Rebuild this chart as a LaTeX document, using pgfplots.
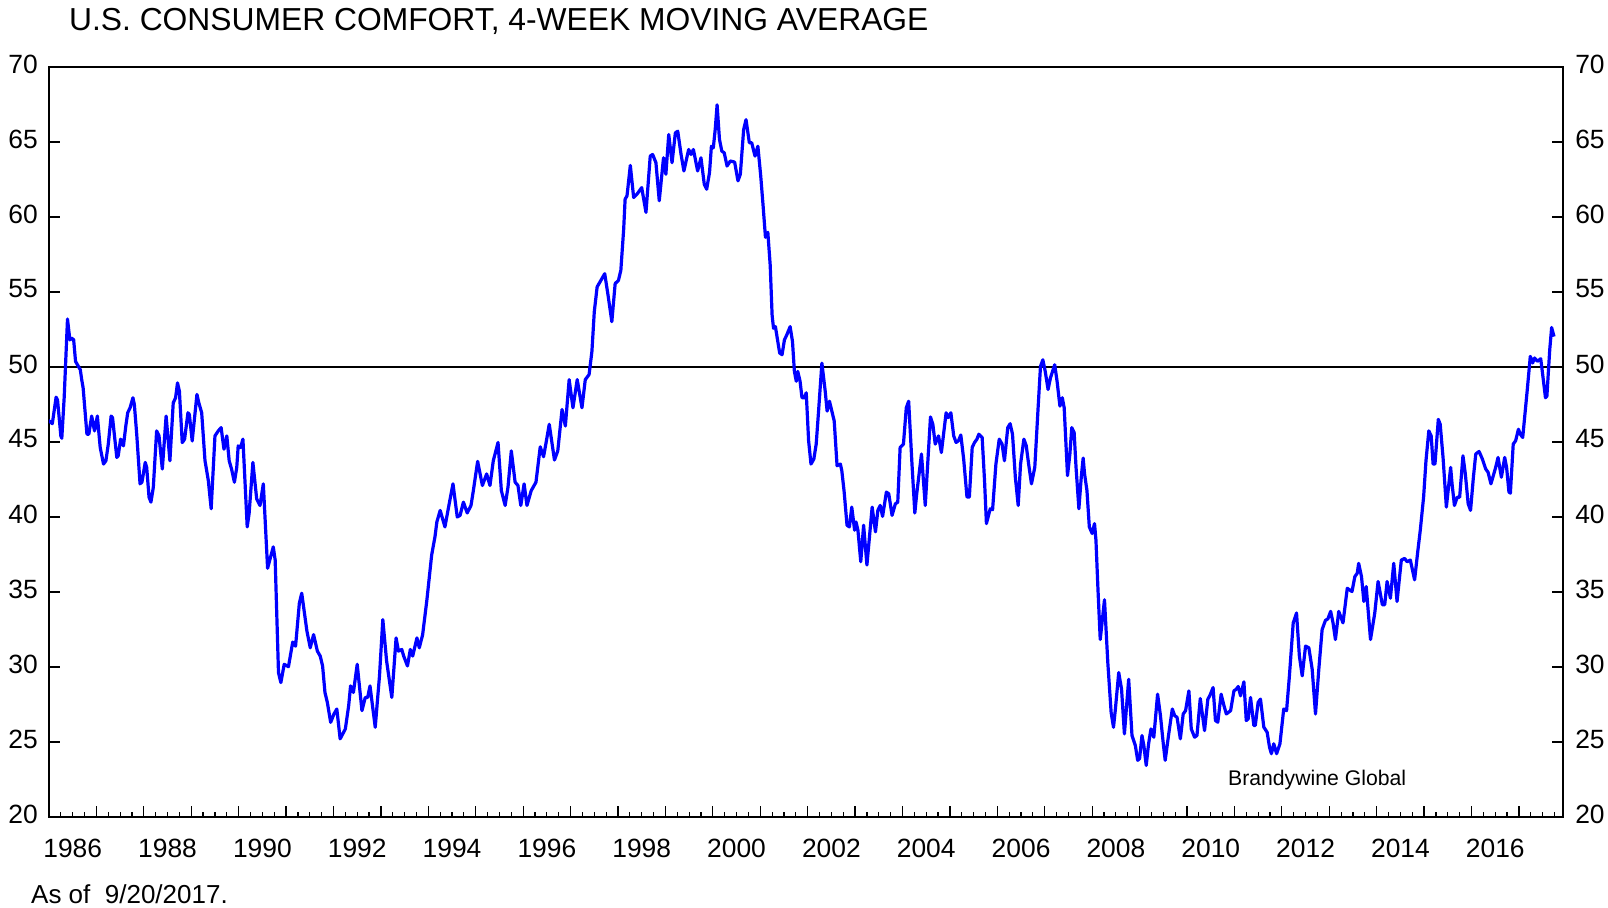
\documentclass[border=0pt]{standalone}
\usepackage{pgfplots}
\pgfplotsset{compat=1.18}
\usepackage{fontspec}
\setmainfont{Liberation Sans}

\definecolor{lineblue}{RGB}{0,0,255}

\begin{document}
\begin{tikzpicture}
\path[use as bounding box] (-24.5pt,-45pt) rectangle (779.5pt,408.5pt);

\pgfplotsset{
  comfort/.style={
    scale only axis,
    width=757pt, height=375pt,
    xmin=1986, xmax=2017.93,
    ymin=20, ymax=70,
    ytick={20,25,...,70},
    tick align=inside,
    major tick length=5.5pt,
    minor tick length=2.5pt,
    ticklabel style={font=\fontsize{13.2}{15}\selectfont},
    /pgf/number format/assume math mode=true,
  }
}

\begin{axis}[
    comfort,
    axis line style={line width=1pt},
    xtick={1987,1988,...,2017},
    xticklabels={},
    minor xtick={1986.25,1986.5,...,2017.8},
    xtick pos=lower,
    ytick pos=both,
    yticklabel pos=left,
    yticklabel style={xshift=-2.1pt, yshift=1.5pt},
    extra x ticks={1986.5,1988.5,...,2016.5},
    extra x tick labels={1986,1988,1990,1992,1994,1996,1998,2000,2002,2004,2006,2008,2010,2012,2014,2016},
    extra x tick style={major tick length=0pt, xticklabel style={yshift=-7.3pt}},
    tick style={black, line width=0.6pt},
]
\addplot[black, line width=0.7pt, forget plot] coordinates {(1986,50) (2017.93,50)};
\addplot[lineblue, line width=1.6pt, line join=round] coordinates {
(1985.99,46.44) (1986.07,46.22) (1986.15,47.99) (1986.18,47.80) (1986.25,45.40) (1986.27,45.25)
(1986.32,47.95) (1986.39,53.20) (1986.44,51.81) (1986.48,51.92) (1986.52,51.81) (1986.56,50.37)
(1986.62,50.04) (1986.66,49.82) (1986.69,49.16) (1986.72,48.60) (1986.80,45.52) (1986.84,45.52)
(1986.90,46.73) (1986.96,45.74) (1987.02,46.73) (1987.08,44.63) (1987.15,43.53) (1987.20,43.75)
(1987.25,44.85) (1987.31,46.73) (1987.34,46.62) (1987.43,43.97) (1987.46,44.08) (1987.51,45.19)
(1987.57,44.74) (1987.62,46.07) (1987.66,46.95) (1987.71,47.28) (1987.77,47.95) (1987.80,47.50)
(1987.85,45.52) (1987.92,42.21) (1987.96,42.32) (1988.03,43.64) (1988.06,43.31) (1988.11,41.32)
(1988.15,40.99) (1988.20,41.98) (1988.27,45.74) (1988.32,45.41) (1988.39,43.20) (1988.47,46.73)
(1988.55,43.75) (1988.62,47.61) (1988.67,47.95) (1988.71,48.94) (1988.75,48.39) (1988.81,44.96)
(1988.86,45.19) (1988.93,46.95) (1988.96,46.84) (1989.02,45.07) (1989.12,48.17) (1989.16,47.61)
(1989.22,46.95) (1989.29,43.75) (1989.36,42.43) (1989.42,40.55) (1989.50,45.41) (1989.57,45.74)
(1989.63,45.96) (1989.69,44.52) (1989.75,45.41) (1989.80,43.75) (1989.85,43.20) (1989.91,42.32)
(1989.96,43.31) (1989.99,44.74) (1990.04,44.63) (1990.09,45.19) (1990.18,39.34) (1990.22,40.22)
(1990.30,43.64) (1990.38,41.21) (1990.45,40.77) (1990.52,42.21) (1990.61,36.58) (1990.73,38.01)
(1990.77,37.13) (1990.84,29.62) (1990.89,28.96) (1990.96,30.18) (1991.05,30.02) (1991.14,31.66)
(1991.20,31.39) (1991.28,34.26) (1991.33,34.92) (1991.44,32.38) (1991.51,31.28) (1991.58,32.16)
(1991.66,31.06) (1991.72,30.73) (1991.77,30.07) (1991.82,28.30) (1991.87,27.64) (1991.94,26.31)
(1992.01,26.87) (1992.07,27.20) (1992.14,25.21) (1992.25,25.87) (1992.32,27.42) (1992.36,28.74)
(1992.42,28.30) (1992.50,30.18) (1992.60,27.09) (1992.67,27.97) (1992.72,27.97) (1992.77,28.74)
(1992.88,25.98) (1992.97,29.40) (1993.04,33.16) (1993.12,30.40) (1993.23,27.97) (1993.32,31.94)
(1993.37,31.06) (1993.44,31.17) (1993.48,30.73) (1993.56,30.07) (1993.62,31.17) (1993.67,30.73)
(1993.76,31.94) (1993.81,31.28) (1993.88,32.16) (1993.97,34.48) (1994.07,37.46) (1994.14,38.68)
(1994.18,39.67) (1994.25,40.44) (1994.35,39.34) (1994.44,40.88) (1994.52,42.21) (1994.61,40.00)
(1994.67,40.11) (1994.74,40.99) (1994.82,40.27) (1994.90,40.77) (1994.95,41.77) (1995.04,43.71)
(1995.14,42.10) (1995.23,42.87) (1995.30,42.10) (1995.37,43.75) (1995.47,44.97) (1995.54,41.76)
(1995.62,40.77) (1995.68,41.99) (1995.75,44.41) (1995.83,42.32) (1995.89,42.10) (1995.95,40.77)
(1996.02,42.21) (1996.08,40.77) (1996.17,41.76) (1996.27,42.32) (1996.36,44.68) (1996.43,44.02)
(1996.48,44.90) (1996.55,46.18) (1996.66,43.80) (1996.73,44.41) (1996.82,47.17) (1996.89,46.07)
(1996.97,49.16) (1997.05,47.28) (1997.14,49.16) (1997.24,47.28) (1997.31,49.16) (1997.39,49.49)
(1997.45,51.04) (1997.50,53.69) (1997.56,55.34) (1997.62,55.67) (1997.72,56.22) (1997.79,54.79)
(1997.87,53.02) (1997.94,55.56) (1998.01,55.78) (1998.06,56.45) (1998.12,59.20) (1998.15,61.19)
(1998.19,61.41) (1998.26,63.44) (1998.33,61.30) (1998.40,61.52) (1998.45,61.74) (1998.50,61.96)
(1998.59,60.31) (1998.68,64.06) (1998.73,64.17) (1998.80,63.62) (1998.87,61.08) (1998.96,63.95)
(1999.01,62.85) (1999.07,65.50) (1999.14,63.62) (1999.21,65.61) (1999.26,65.72) (1999.33,64.17)
(1999.39,63.07) (1999.49,64.50) (1999.54,64.17) (1999.59,64.50) (1999.68,63.07) (1999.75,63.95)
(1999.82,62.18) (1999.87,61.85) (1999.93,62.96) (1999.97,64.72) (2000.01,64.61) (2000.05,65.83)
(2000.09,67.48) (2000.14,65.17) (2000.19,64.39) (2000.24,64.28) (2000.30,63.40) (2000.37,63.73)
(2000.46,63.66) (2000.53,62.41) (2000.58,62.85) (2000.65,65.83) (2000.70,66.49) (2000.77,64.95)
(2000.82,64.95) (2000.89,64.06) (2000.95,64.72) (2001.01,62.74) (2001.06,60.75) (2001.11,58.65)
(2001.16,58.98) (2001.21,56.78) (2001.25,53.46) (2001.28,52.58) (2001.32,52.69) (2001.37,51.70)
(2001.41,50.93) (2001.46,50.82) (2001.51,51.81) (2001.56,52.14) (2001.63,52.69) (2001.68,51.70)
(2001.72,49.71) (2001.76,49.05) (2001.79,49.71) (2001.84,49.05) (2001.88,47.95) (2001.93,47.95)
(2001.97,48.28) (2002.02,45.08) (2002.07,43.53) (2002.13,43.86) (2002.18,44.86) (2002.23,47.06)
(2002.30,50.26) (2002.37,48.39) (2002.41,47.06) (2002.46,47.72) (2002.51,47.06) (2002.56,46.40)
(2002.62,43.42) (2002.69,43.53) (2002.72,43.09) (2002.77,41.66) (2002.83,39.45) (2002.88,39.34)
(2002.93,40.66) (2002.99,39.12) (2003.02,39.67) (2003.06,39.12) (2003.12,37.02) (2003.18,39.45)
(2003.25,36.80) (2003.36,40.66) (2003.43,39.01) (2003.48,40.44) (2003.53,40.77) (2003.58,40.04)
(2003.66,41.66) (2003.71,41.55) (2003.78,40.11) (2003.85,40.88) (2003.90,40.99) (2003.95,44.64)
(2004.02,44.86) (2004.08,47.28) (2004.13,47.72) (2004.20,43.53) (2004.26,40.27) (2004.30,41.55)
(2004.40,44.20) (2004.48,40.77) (2004.59,46.67) (2004.64,46.18) (2004.69,44.86) (2004.76,45.41)
(2004.82,44.30) (2004.92,46.95) (2004.96,46.62) (2005.02,46.95) (2005.08,45.41) (2005.13,44.97)
(2005.18,45.08) (2005.23,45.47) (2005.29,43.86) (2005.36,41.33) (2005.41,41.33) (2005.47,44.64)
(2005.52,44.97) (2005.57,45.19) (2005.61,45.52) (2005.68,45.30) (2005.73,42.43) (2005.77,39.56)
(2005.85,40.55) (2005.90,40.49) (2005.97,43.53) (2006.04,45.19) (2006.10,44.86) (2006.15,43.75)
(2006.22,45.96) (2006.27,46.22) (2006.32,45.52) (2006.38,42.65) (2006.44,40.77) (2006.49,43.53)
(2006.56,45.19) (2006.61,44.75) (2006.66,43.53) (2006.72,42.21) (2006.79,43.31) (2006.86,47.28)
(2006.91,50.04) (2006.96,50.48) (2007.01,49.71) (2007.07,48.50) (2007.12,49.27) (2007.17,49.76)
(2007.21,50.15) (2007.26,49.05) (2007.32,47.39) (2007.37,47.95) (2007.41,47.28) (2007.48,42.76)
(2007.53,44.20) (2007.57,45.96) (2007.62,45.63) (2007.66,43.31) (2007.72,40.55) (2007.77,42.65)
(2007.81,43.93) (2007.84,42.87) (2007.89,41.77) (2007.94,39.34) (2008.00,38.90) (2008.05,39.56)
(2008.08,38.45) (2008.12,35.36) (2008.17,31.83) (2008.26,34.48) (2008.33,30.29) (2008.40,26.97)
(2008.45,25.98) (2008.49,27.20) (2008.56,29.63) (2008.62,28.52) (2008.68,25.54) (2008.77,29.18)
(2008.84,25.43) (2008.91,24.77) (2008.96,23.78) (2009.00,23.89) (2009.05,25.43) (2009.09,24.77)
(2009.14,23.44) (2009.19,24.88) (2009.24,25.87) (2009.30,25.32) (2009.38,28.19) (2009.44,26.76)
(2009.50,24.88) (2009.54,23.78) (2009.61,25.43) (2009.69,27.20) (2009.74,26.76) (2009.79,26.65)
(2009.86,25.21) (2009.92,26.87) (2009.97,27.09) (2010.04,28.41) (2010.09,25.87) (2010.16,25.32)
(2010.21,25.43) (2010.28,27.90) (2010.37,25.76) (2010.44,27.86) (2010.48,28.08) (2010.55,28.63)
(2010.60,26.43) (2010.65,26.32) (2010.72,28.19) (2010.78,27.42) (2010.83,26.87) (2010.92,27.09)
(2010.99,28.41) (2011.04,28.52) (2011.08,28.70) (2011.13,28.08) (2011.20,29.01) (2011.25,26.43)
(2011.29,26.54) (2011.34,27.97) (2011.41,26.10) (2011.44,26.10) (2011.50,27.64) (2011.55,27.86)
(2011.62,25.99) (2011.69,25.65) (2011.74,24.66) (2011.78,24.22) (2011.83,24.88) (2011.89,24.22)
(2011.96,24.88) (2012.04,27.20) (2012.10,27.09) (2012.16,29.41) (2012.24,32.94) (2012.31,33.60)
(2012.37,30.73) (2012.43,29.41) (2012.50,31.39) (2012.57,31.28) (2012.64,29.85) (2012.71,26.87)
(2012.78,29.85) (2012.85,32.50) (2012.92,33.11) (2012.97,33.20) (2013.03,33.71) (2013.08,32.94)
(2013.13,31.83) (2013.20,33.71) (2013.29,32.94) (2013.38,35.25) (2013.48,35.03) (2013.54,36.03)
(2013.59,36.25) (2013.62,36.91) (2013.68,36.03) (2013.73,34.37) (2013.78,35.36) (2013.87,31.83)
(2013.96,33.60) (2014.03,35.70) (2014.12,34.15) (2014.17,34.15) (2014.22,35.70) (2014.29,34.59)
(2014.36,36.91) (2014.43,34.37) (2014.52,37.13) (2014.59,37.24) (2014.64,37.02) (2014.71,37.13)
(2014.80,35.81) (2014.87,37.79) (2014.92,39.12) (2014.99,41.33) (2015.04,43.75) (2015.10,45.74)
(2015.15,45.41) (2015.19,43.53) (2015.23,43.53) (2015.30,46.51) (2015.34,46.18) (2015.40,43.97)
(2015.47,40.66) (2015.56,43.31) (2015.59,42.21) (2015.64,40.77) (2015.70,41.32) (2015.75,41.32)
(2015.82,44.08) (2015.87,42.87) (2015.93,40.88) (2015.98,40.44) (2016.04,42.65) (2016.09,44.20)
(2016.16,44.37) (2016.23,43.86) (2016.30,43.20) (2016.35,42.98) (2016.41,42.21) (2016.46,42.76)
(2016.51,43.31) (2016.56,43.97) (2016.63,42.65) (2016.70,43.97) (2016.74,43.31) (2016.79,41.66)
(2016.82,41.59) (2016.88,44.86) (2016.93,45.08) (2016.99,45.85) (2017.03,45.52) (2017.08,45.30)
(2017.14,47.28) (2017.18,48.61) (2017.24,50.71) (2017.29,50.27) (2017.33,50.60) (2017.39,50.38)
(2017.46,50.55) (2017.51,49.27) (2017.56,47.95) (2017.59,48.06) (2017.65,51.15) (2017.69,52.63)
(2017.74,52.03)
};
\node[anchor=base west, inner sep=0pt, font=\fontsize{10.6}{12}\selectfont] at (axis cs:2010.86,22.07) {Brandywine Global};
\end{axis}

% right-hand tick labels
\begin{axis}[
    comfort,
    axis line style={draw=none},
    xtick=\empty,
    major tick length=0pt,
    yticklabel pos=right,
    yticklabel style={xshift=2.6pt, yshift=1.5pt},
]
\end{axis}

\node[anchor=base west, inner sep=0pt, font=\fontsize{15.9}{19}\selectfont] at (9.85pt,393pt) {U.S. CONSUMER COMFORT, 4-WEEK MOVING AVERAGE};
\node[anchor=base west, inner sep=0pt, font=\fontsize{13}{15}\selectfont] at (-9.1pt,-43pt) {As of\ \ 9/20/2017.};
\end{tikzpicture}
\end{document}
